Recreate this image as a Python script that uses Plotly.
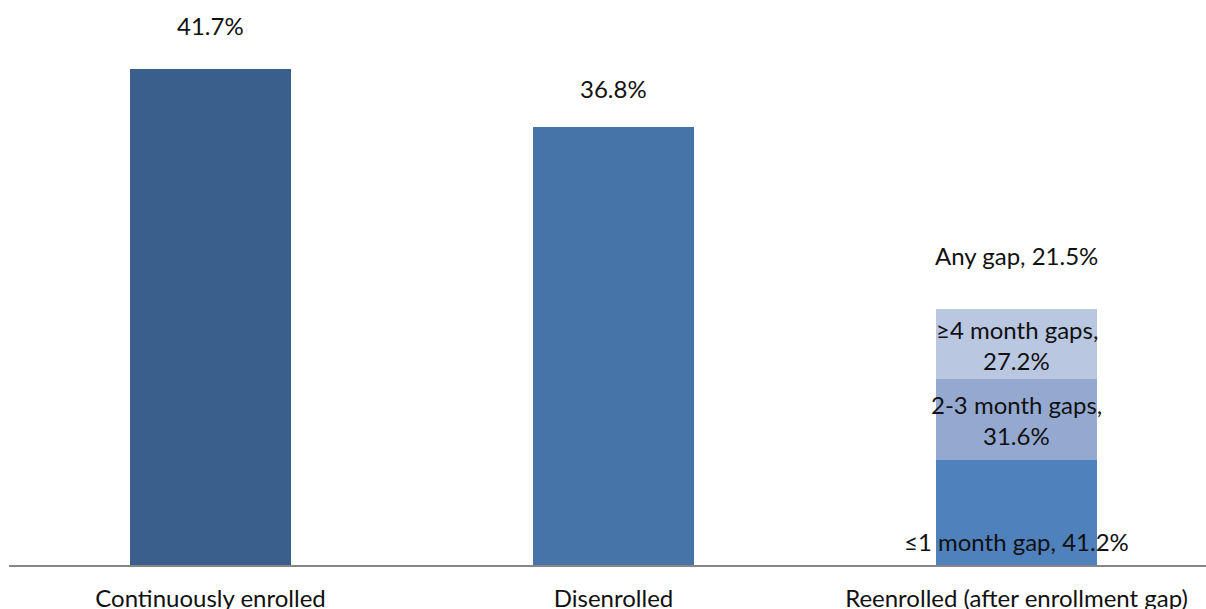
import plotly.graph_objects as go

categories = ["Continuously enrolled", "Disenrolled", "Reenrolled (after enrollment gap)"]
main_values = [41.7, 36.8]
main_colors = ["#3B5F8C", "#4673A8"]
any_gap_total = 21.5
gap_labels = ["≤1 month gap", "2-3 month gaps", "≥4 month gaps"]
gap_shares = [41.2, 31.6, 27.2]
gap_colors = ["#4F81BD", "#95A9D0", "#B9C7E0"]

FONT = "Lato"
FS = 24
TXT = "#111111"
PX_PER_UNIT = 496 / 41.7  # pixel scale used for label offsets
PLOT_H = 565

fig = go.Figure()
xs = [0, 1, 2]

fig.add_trace(go.Bar(x=xs[:2], y=main_values, width=0.4,
                     marker=dict(color=main_colors, line=dict(width=0)),
                     showlegend=False, hoverinfo="skip"))

gap_heights = [any_gap_total * s / 100 for s in gap_shares]
for h, c in zip(gap_heights, gap_colors):
    fig.add_trace(go.Bar(x=[2], y=[h], width=0.4,
                         marker=dict(color=c, line=dict(width=0)),
                         showlegend=False, hoverinfo="skip"))

ann = []
# top labels
for x, v, shift in [(0, main_values[0], 44), (1, main_values[1], 39), (2, any_gap_total, 54)]:
    txt = f"{v:.1f}%" if x < 2 else f"Any gap, {v:.1f}%"
    ann.append(dict(x=x, y=v, yshift=shift, text=txt, showarrow=False,
                    xanchor="center", yanchor="middle"))

# segment labels
base = 0
segs = []
for h in gap_heights:
    segs.append((base, base + h))
    base += h
# bottom segment: single line near base
ann.append(dict(x=2, y=0, yshift=24, text=f"{gap_labels[0]}, {gap_shares[0]:.1f}%",
                showarrow=False, xanchor="center", yanchor="middle"))
for i in (1, 2):
    lo, hi = segs[i]
    mid = (lo + hi) / 2
    ann.append(dict(x=2, y=mid, yshift=15, text=f"{gap_labels[i]},", showarrow=False,
                    xanchor="center", yanchor="middle"))
    ann.append(dict(x=2, y=mid, yshift=-16, text=f"{gap_shares[i]:.1f}%", showarrow=False,
                    xanchor="center", yanchor="middle"))

fig.update_layout(
    barmode="stack",
    width=1206, height=609,
    margin=dict(l=9, r=0, t=0, b=609 - PLOT_H, autoexpand=False),
    paper_bgcolor="white", plot_bgcolor="white",
    font=dict(family=FONT, size=FS, color=TXT),
    annotations=ann,
    xaxis=dict(range=[-0.5, -0.5 + 1197 / 403], tickvals=xs, ticktext=categories,
               showgrid=False, zeroline=False, showline=True, linecolor="#868686",
               linewidth=1.5, ticks="", ticklabelstandoff=11, automargin=False,
               tickfont=dict(family=FONT, size=FS, color=TXT)),
    yaxis=dict(range=[0, PLOT_H / PX_PER_UNIT], visible=False),
    bargap=0,
)

fig.write_html("out.html")
